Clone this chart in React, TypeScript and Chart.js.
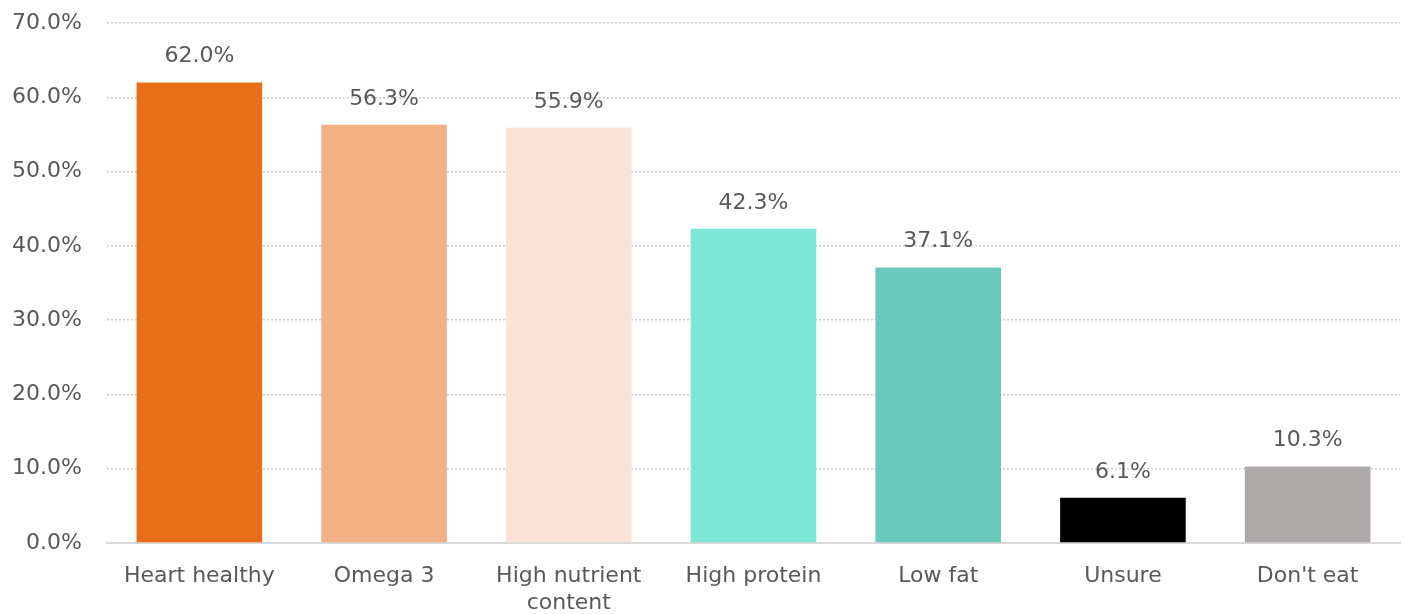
import React, { useEffect, useRef } from "react";
import { Chart, registerables } from "chart.js";

Chart.register(...registerables);

const categories: (string | string[])[] = [
  "Heart healthy",
  "Omega 3",
  ["High nutrient", "content"],
  "High protein",
  "Low fat",
  "Unsure",
  "Don't eat",
];
const values: number[] = [62.0, 56.3, 55.9, 42.3, 37.1, 6.1, 10.3];
const barColors: string[] = [
  "#E86E1A",
  "#F3B085",
  "#FAE4D7",
  "#7BE6D3",
  "#69C9BB",
  "#000000",
  "#AEAAA9",
];
const yTicks: number[] = [0, 10, 20, 30, 40, 50, 60, 70];

const FONT = "'DejaVu Sans', sans-serif";
const TEXT = "#595959";

const dataLabels = {
  id: "dataLabels",
  afterDatasetsDraw(chart: any) {
    const ctx = chart.ctx;
    const meta = chart.getDatasetMeta(0);
    ctx.save();
    ctx.font = `22px ${FONT}`;
    ctx.fillStyle = TEXT;
    ctx.textAlign = "center";
    ctx.textBaseline = "alphabetic";
    meta.data.forEach((el: any, i: number) => {
      ctx.fillText(values[i].toFixed(1) + "%", el.x, el.y - 20);
    });
    ctx.restore();
  },
};

export default function App() {
  const ref = useRef<HTMLCanvasElement>(null);
  useEffect(() => {
    document.body.style.margin = "0";
    const chart = new Chart(ref.current!, {
      type: "bar",
      data: {
        labels: categories as any,
        datasets: [
          {
            data: values,
            backgroundColor: barColors,
            borderWidth: 0,
            barPercentage: 0.68,
            categoryPercentage: 1,
          },
        ],
      },
      options: {
        animation: false,
        responsive: false,
        maintainAspectRatio: false,
        layout: { padding: { top: 0, right: 5, left: 0, bottom: 0 } },
        plugins: {
          legend: { display: false },
          tooltip: { enabled: false },
        },
        scales: {
          x: {
            grid: { display: false },
            border: { display: true, color: "#D9D9D9", width: 2 },
            ticks: {
              color: TEXT,
              font: { family: FONT, size: 22, lineHeight: 1.22 },
              padding: 12,
              maxRotation: 0,
              autoSkip: false,
            },
            afterFit: (s: any) => {
              s.height = 71;
            },
          },
          y: {
            min: 0,
            max: 70,
            afterBuildTicks: (s: any) => {
              s.ticks = yTicks.map((v) => ({ value: v }));
            },
            grid: {
              color: (c: any) => (c.tick && c.tick.value === 0 ? "rgba(0,0,0,0)" : "#CCCCCC"),
              lineWidth: 1.5,
              drawTicks: false,
            },
            border: { display: false, dash: [2, 2] },
            ticks: {
              color: TEXT,
              font: { family: FONT, size: 22 },
              padding: 25,
              callback: (v: any) => Number(v).toFixed(1) + "%",
            },
            afterFit: (s: any) => {
              s.width = 107;
              s.paddingTop = 23;
              s.paddingBottom = 0;
            },
          },
        },
      },
      plugins: [dataLabels],
    });
    return () => chart.destroy();
  }, []);
  return (
    <div style={{ width: 1405, height: 614 }}>
      <canvas ref={ref} width={1405} height={614} style={{ display: "block" }} />
    </div>
  );
}
